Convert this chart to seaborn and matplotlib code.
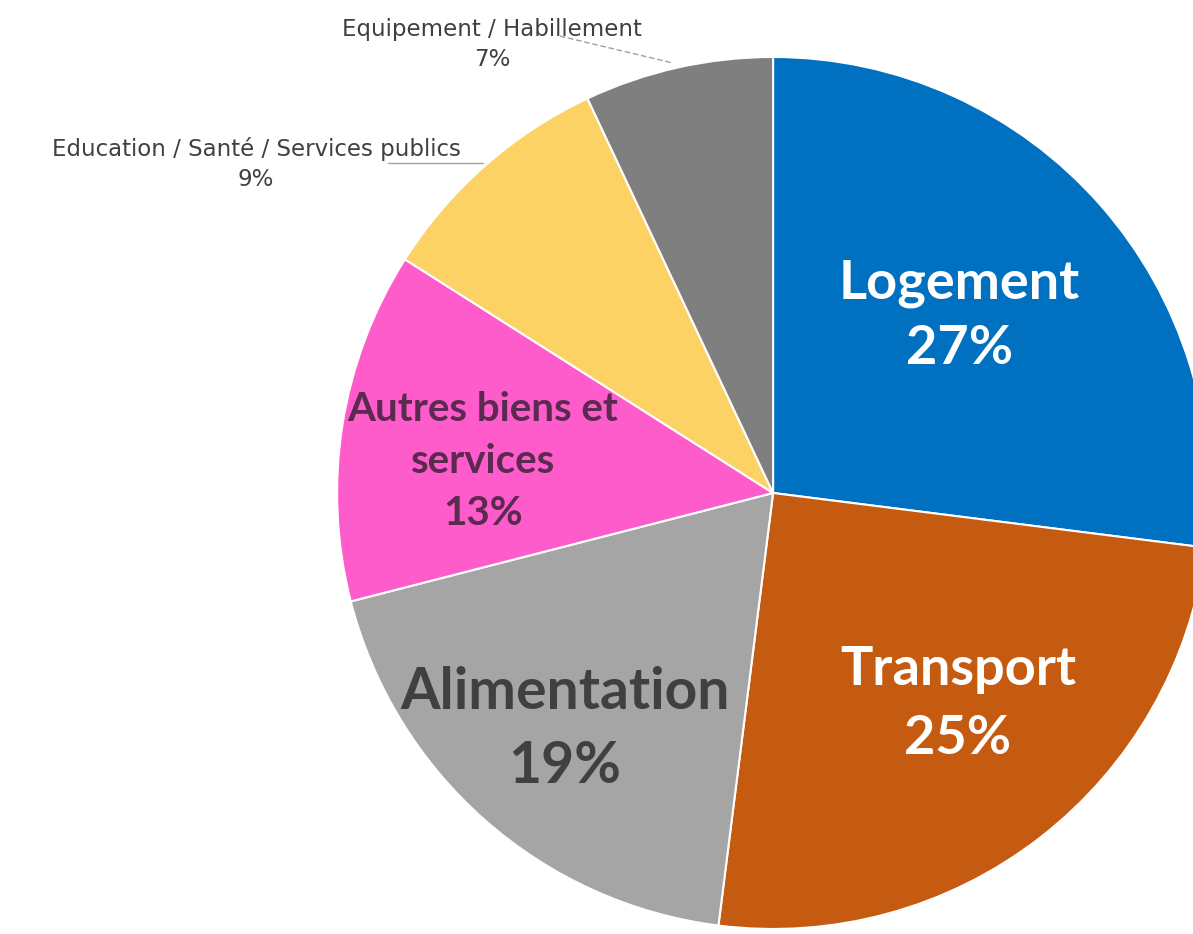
import matplotlib
matplotlib.use("Agg")
import seaborn as sns
import matplotlib.pyplot as plt

# ==============================
# Data
# ==============================
categories = ["Logement", "Transport", "Alimentation",
              "Autres biens et\nservices", "Education / Santé / Services publics",
              "Equipement / Habillement"]
shares = [27, 25, 19, 13, 9, 7]
colors = ["#0070C0", "#C55A11", "#A5A5A5", "#FF5CCB", "#FCD265", "#7F7F7F"]

sns.set_style("white")
plt.rcParams["font.family"] = ["Lato", "DejaVu Sans"]

fig = plt.figure(figsize=(11.93, 9.34), dpi=100)
ax = fig.add_axes([0, 0, 1, 1])

ax.pie(shares, colors=colors, startangle=90, counterclock=False, radius=1,
       wedgeprops=dict(edgecolor="white", linewidth=1.5))

ax.set_xlim(-1.773, 0.963)
ax.set_ylim(-1.0115, 1.1307)
ax.set_aspect("equal")
ax.axis("off")

# labels inside the big slices
big = dict(ha="center", va="center", fontweight="bold")
ax.text(0.428, 0.406, f"{categories[0]}\n{shares[0]}%", color="white",
        fontsize=39, linespacing=1.4, **big)
ax.text(0.424, -0.484, f"{categories[1]}\n{shares[1]}%", color="white",
        fontsize=39, linespacing=1.5, **big)
ax.text(-0.477, -0.542, f"{categories[2]}\n{shares[2]}%", color="#404040",
        fontsize=41, linespacing=1.5, **big)
ax.text(-0.665, 0.072, f"{categories[3]}\n{shares[3]}%", color="#5B2A50",
        fontsize=29, linespacing=1.5, **big)

# small outside labels with leader lines
small = dict(ha="center", va="center", color="#404040", fontsize=16.5,
             linespacing=1.4, family="DejaVu Sans")
ax.text(-1.186, 0.755, f"{categories[4]}\n{shares[4]}%", **small)
ax.plot([-0.883, -0.666], [0.757, 0.757], color="#A0A0A0", lw=1)
ax.text(-0.644, 1.028, f"{categories[5]}\n{shares[5]}%", **small)
ax.plot([-0.489, -0.229], [1.048, 0.986], color="#A0A0A0", lw=1, ls=(0, (4, 2)))

fig.savefig("out.png", dpi=100)
